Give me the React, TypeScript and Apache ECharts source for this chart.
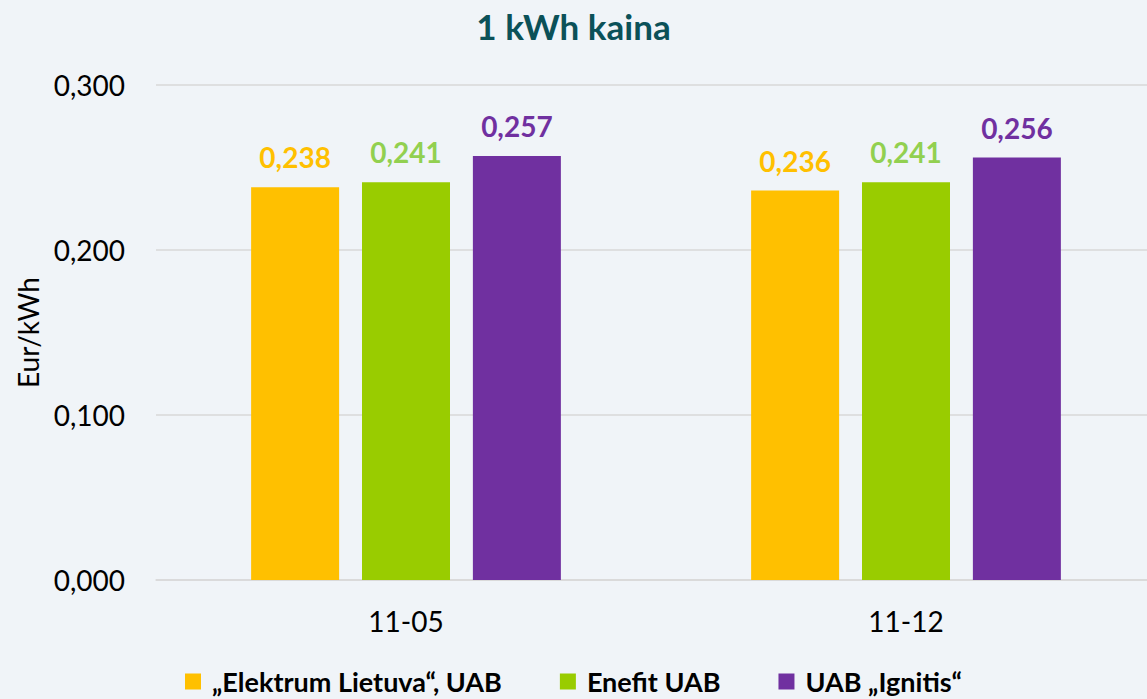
import React, { useEffect, useRef } from "react";
import * as echarts from "echarts";

const categories = ["11-05", "11-12"];
const seriesNames = ["„Elektrum Lietuva“, UAB", "Enefit UAB", "UAB „Ignitis“"];
const elektrum = [0.238, 0.236];
const enefit = [0.241, 0.241];
const ignitis = [0.257, 0.256];
const barColors = ["#FFC000", "#99CC00", "#7030A0"];
const labelColors = ["#FFC000", "#92D050", "#7030A0"];

const FONT = "Lato, 'Open Sans', sans-serif";
const fmt = (v: number) => v.toFixed(3).replace(".", ",");

export default function App() {
  const ref = useRef<HTMLDivElement>(null);
  useEffect(() => {
    if (!ref.current) return;
    const chart = echarts.init(ref.current, null, { renderer: "svg" });
    const data = [elektrum, enefit, ignitis];
    chart.setOption({
      animation: false,
      backgroundColor: "#F0F4F8",
      textStyle: { fontFamily: FONT },
      title: {
        text: "1 kWh kaina",
        left: "center",
        top: 3,
        textStyle: { fontFamily: FONT, fontSize: 35, fontWeight: "bold", color: "#0B5158" },
      },
      legend: {
        data: seriesNames,
        left: "center",
        top: 663,
        itemWidth: 16,
        itemHeight: 16,
        itemGap: 58,
        icon: "rect",
        textStyle: { fontFamily: FONT, fontSize: 27, fontWeight: "bold", color: "#000", padding: [0, 0, 0, 6] },
      },
      grid: { left: 156, right: -9, top: 85, bottom: 119, containLabel: false, outerBoundsMode: "none" },
      xAxis: {
        type: "category",
        data: categories,
        axisLine: { lineStyle: { color: "#D9D9D9", width: 1.5 } },
        axisTick: { show: false },
        axisLabel: { fontFamily: FONT, fontSize: 28, color: "#000", margin: 27 },
      },
      yAxis: {
        type: "value",
        min: 0,
        max: 0.3,
        interval: 0.1,
        name: "Eur/kWh",
        nameLocation: "middle",
        nameGap: 114,
        nameTextStyle: { fontFamily: FONT, fontSize: 28, color: "#000" },
        axisLine: { show: false },
        axisTick: { show: false },
        splitLine: { lineStyle: { color: "#D9D9D9", width: 1.5 } },
        axisLabel: { fontFamily: FONT, fontSize: 28, color: "#000", margin: 31, formatter: (v: number) => fmt(v) },
      },
      series: seriesNames.map((name, i) => ({
        name,
        type: "bar",
        data: data[i],
        barWidth: 88,
        barGap: "26%",
        itemStyle: { color: barColors[i] },
        label: {
          show: true,
          position: "top",
          distance: 16,
          formatter: (p: any) => fmt(p.value),
          fontFamily: FONT,
          fontSize: 28,
          fontWeight: "bold",
          color: labelColors[i],
        },
      })),
    });
    return () => chart.dispose();
  }, []);
  return (
    <div
      ref={ref}
      style={{ position: "fixed", left: 0, top: 0, width: 1147, height: 699 }}
    />
  );
}
